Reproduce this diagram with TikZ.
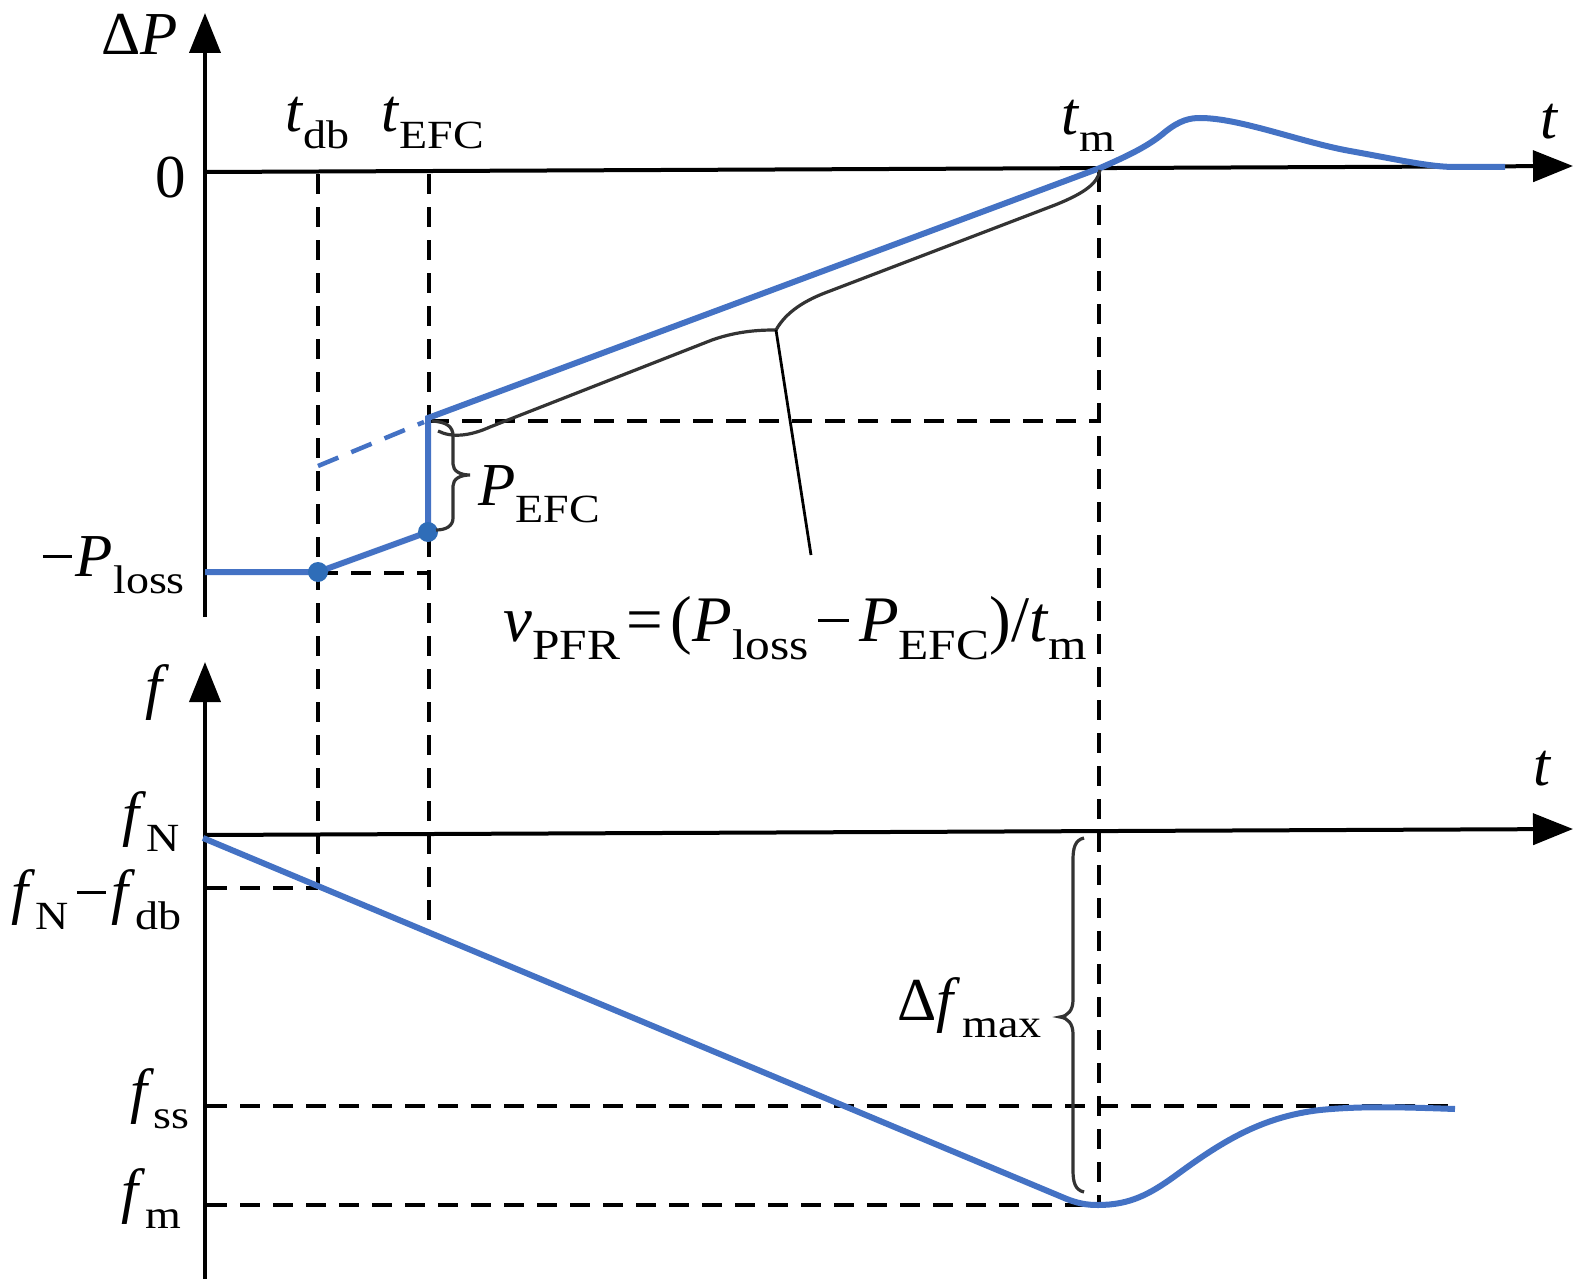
\documentclass[tikz,border=0pt]{standalone}
\usepackage{fontspec}
\setmainfont{Liberation Serif}
\newfontfamily\subf{Liberation Serif}[FakeStretch=1.15]
\usetikzlibrary{arrows.meta}
\definecolor{curveblue}{HTML}{4472C4}
\definecolor{dotblue}{HTML}{2F6DB8}
\definecolor{bracegray}{HTML}{333333}
\newcommand\mysub[1]{\raisebox{-17pt}{\subf\fontsize{40}{40}\selectfont #1}}
\newcommand\mysubL[1]{\raisebox{-18pt}{\subf\fontsize{43}{43}\selectfont #1}}
\newcommand\mminus{\rule[18pt]{29pt}{3pt}}
\begin{document}
\begin{tikzpicture}[x=1pt,y=-1pt,
  axis/.style={line width=4pt,-{Triangle[length=40pt,width=31pt]}},
  curve/.style={line width=6pt,curveblue},
  guide/.style={line width=3.6pt,dash pattern=on 20pt off 13pt},
  bracestroke/.style={line width=3.2pt,bracegray},
  lbl/.style={inner sep=0pt,font=\fontsize{61}{61}\selectfont},
  dotmark/.style={circle,fill=dotblue,inner sep=0pt,minimum size=20pt}]
\useasboundingbox (0,0) rectangle (1575,1279);

% ---------- upper plot ----------
\draw[axis] (205,617) -- (205,13);
\draw[axis] (205,172) -- (1573,166);

% guides
\draw[guide] (318,174) -- (318,888);
\draw[guide] (429,174) -- (429,922);
\draw[guide] (1099,172) -- (1099,1205);
\draw[guide] (429,421) -- (1099,421);
\draw[guide] (318,573) -- (429,573);

% blue curve
\draw[curve,dash pattern=on 22pt off 14pt,line width=4.5pt] (318,466) -- (424,422);
\draw[curve,line join=miter] (205,572) -- (318,572) -- (428,532) -- (428,418) -- (1100,168)
  .. controls (1130,155) and (1150,145) .. (1165,132)
  .. controls (1180,120) and (1190,118) .. (1200,118)
  .. controls (1240,118) and (1300,142) .. (1350,151)
  .. controls (1400,160) and (1430,167) .. (1455,167) -- (1505,167);
\node[dotmark] (d1) at (318,572) {};
\node[dotmark] (d2) at (428,532) {};

% P_EFC brace
\draw[bracestroke] (432,421) .. controls (446,422) and (453,426) .. (453,436) -- (453,464)
  .. controls (453,471) and (460,475) .. (470,475)
  .. controls (460,475) and (453,479) .. (453,486) -- (453,518)
  .. controls (453,526) and (446,530) .. (436,530);

% slope brace
\draw[bracestroke] (438,431) .. controls (452,438) and (470,436) .. (490,427) -- (712,340)
  .. controls (740,330) and (765,330) .. (776,330);
\draw[bracestroke] (776,330) .. controls (786,312) and (805,300) .. (830,291) -- (1055,205)
  .. controls (1085,193) and (1098,183) .. (1100,170);
\draw[line width=2.8pt] (776,330) -- (811,555);

% labels upper
\node[lbl,anchor=base east] (lDP) at (178,55) {Δ\textit{P}};
\node[lbl,anchor=base east] (l0) at (186,197) {0};
\node[lbl,anchor=base west] (ltdb) at (285,132) {\textit{t}\mysub{db}};
\node[lbl,anchor=base west] (ltefc) at (381,132) {\textit{t}\mysub{EFC}};
\node[lbl,anchor=base west] (ltm) at (1061,135) {\textit{t}\mysub{m}};
\node[lbl,anchor=base west] (lt1) at (1540,139) {\textit{t}};
\node[lbl,anchor=base east] (lPloss) at (185,576) {\mminus\hspace{4pt}\textit{P}\mysub{loss}};
\node[lbl,anchor=base west] (lPefc) at (478,505) {\textit{P}\mysub{EFC}};
\node[lbl,anchor=base west,font=\fontsize{65}{65}\selectfont] (lform) at (503,641)
  {\textit{v}\mysubL{PFR}\hspace{6pt}=\hspace{8pt}(\textit{P}\mysubL{loss}\hspace{9pt}\rule[19pt]{31pt}{3pt}\hspace{10pt}\textit{P}\mysubL{EFC})/\textit{t}\mysubL{m}};

% ---------- lower plot ----------
\draw[axis] (205,1279) -- (205,662);
\draw[axis] (205,835) -- (1573,829);

\draw[guide] (207,888) -- (318,888);
\draw[guide] (207,1106) -- (1455,1106);
\draw[guide] (207,1205) -- (1099,1205);

\draw[curve] (203,838) -- (1062,1197)
  .. controls (1078,1204) and (1088,1205) .. (1098,1205)
  .. controls (1130,1205) and (1150,1194) .. (1175,1176)
  .. controls (1220,1143) and (1260,1117) .. (1320,1110)
  .. controls (1360,1106) and (1400,1107) .. (1455,1109);

% delta f max brace
\draw[bracestroke] (1084,838) .. controls (1075,840) and (1073,848) .. (1073,860) -- (1073,1000)
  .. controls (1073,1010) and (1068,1016) .. (1060,1017)
  .. controls (1068,1018) and (1073,1024) .. (1073,1034) -- (1073,1170)
  .. controls (1073,1182) and (1075,1190) .. (1084,1192);

% labels lower
\node[lbl,anchor=base west] (lf) at (145,707) {\textit{f}};
\node[lbl,anchor=base west] (lt2) at (1533,785) {\textit{t}};
\node[lbl,anchor=base east] (lfN) at (180,834) {\textit{f}\mysub{N}};
\node[lbl,anchor=base east] (lfdb) at (182,912) {\textit{f}\mysub{N}\hspace{8pt}\mminus\hspace{6pt}\textit{f}\mysub{db}};
\node[lbl,anchor=base east] (lfss) at (190,1111) {\textit{f}\mysub{ss}};
\node[lbl,anchor=base east] (lfm) at (181,1211) {\textit{f}\mysub{m}};
\node[lbl,anchor=base west] (ldf) at (897,1020) {Δ\textit{f}\hspace{2pt}\mysub{max}};
\end{tikzpicture}
\end{document}
